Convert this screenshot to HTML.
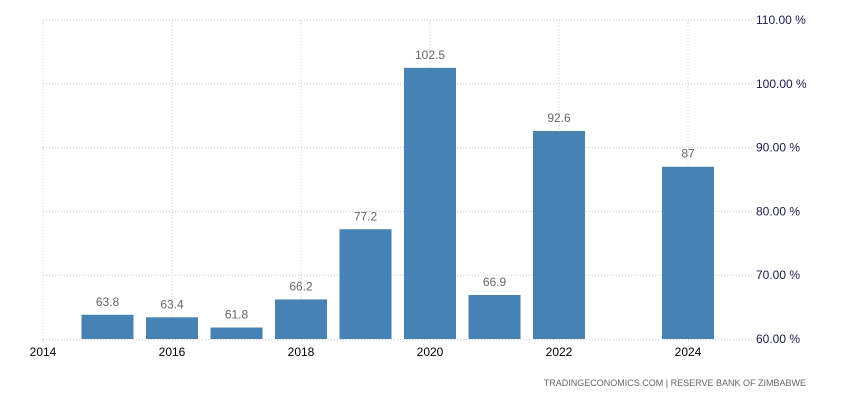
<!DOCTYPE html>
<html><head><meta charset="utf-8"><style>
body{margin:0;background:#fff;width:850px;height:400px;overflow:hidden;font-family:"Liberation Sans",sans-serif}
</style></head><body>
<svg id="chart" width="850" height="400" xmlns="http://www.w3.org/2000/svg"></svg>
<script>
const years=[2015,2016,2017,2018,2019,2020,2021,2022,2024];
const values=[63.8,63.4,61.8,66.2,77.2,102.5,66.9,92.6,87];
const labels=["63.8","63.4","61.8","66.2","77.2","102.5","66.9","92.6","87"];
const yTicks=[60,70,80,90,100,110];
const xTicks=[2014,2016,2018,2020,2022,2024];
const NS="http://www.w3.org/2000/svg";
const svg=document.getElementById('chart');
const x=v=>43+(v-2014)*64.5;
const y=v=>339-(v-60)*6.38;
function mk(t,a,txt){const e=document.createElementNS(NS,t);for(const k in a)e.setAttribute(k,a[k]);if(txt!==undefined)e.textContent=txt;svg.appendChild(e);return e;}
yTicks.forEach(t=>{
 if(t>60){const l=mk('line',{x1:43,x2:752,y1:y(t),y2:y(t),stroke:'#ccc','stroke-dasharray':'1,2'});
 
 }
 const tx=mk('text',{x:756,y:y(t)+4,'font-size':12,fill:'#1a1a4e'},t.toFixed(2)+' %');
 
 
});
xTicks.forEach(t=>{
 const l=mk('line',{x1:x(t),x2:x(t),y1:20,y2:344,stroke:'#ccc','stroke-dasharray':'1,2'});
 
 
 const tx=mk('text',{x:x(t),y:356,'font-size':12,fill:'#000','text-anchor':'middle'},String(t));
 
 
});
const base=mk('line',{x1:43,x2:752,y1:339.5,y2:339.5,stroke:'#ccc','stroke-dasharray':'1,2'});


years.forEach((yr,i)=>{
 const cx=x(yr),top=y(values[i]);
 const r=mk('rect',{x:cx-26,y:top,width:52,height:339-top,fill:'#4682b4'});
 
 
 const t=mk('text',{x:cx,y:top-9,'font-size':12,fill:'#666','text-anchor':'middle'},labels[i]);
 
 
});
const src=mk('text',{x:806,y:386,'font-size':9,fill:'#666','text-anchor':'end'},'TRADINGECONOMICS.COM  |  RESERVE BANK OF ZIMBABWE');


</script>
</body></html>
